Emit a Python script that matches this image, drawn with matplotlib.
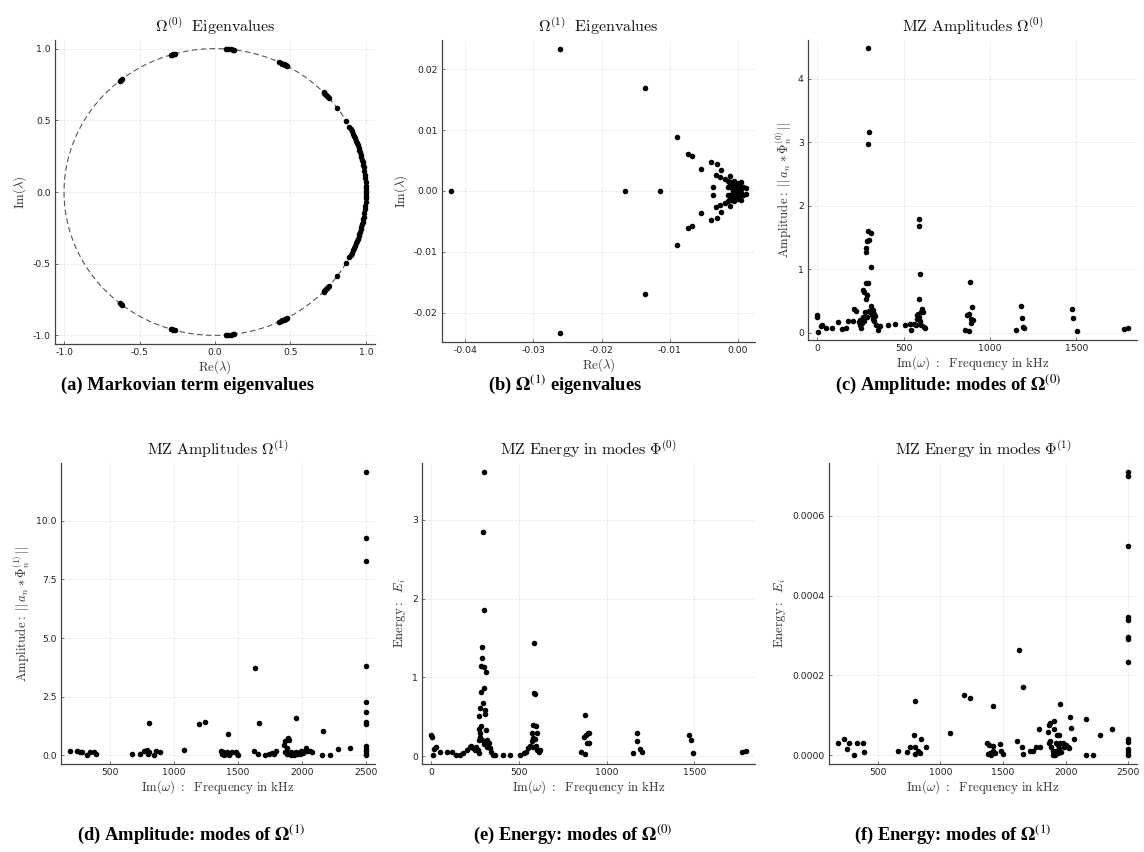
import numpy as np
import matplotlib
matplotlib.use("Agg")
import matplotlib.pyplot as plt
from matplotlib.ticker import FormatStrFormatter, MultipleLocator

plt.rcParams['mathtext.fontset'] = 'cm'
plt.rcParams['axes.unicode_minus'] = True

# (a) Omega^(0) eigenvalues: angles (deg) of the upper-half points on the unit circle
a_angles_deg = [0.5, 1.5, 2.5, 4, 5.5, 7, 8.5, 10, 11, 12, 13, 14, 15, 16, 17,
                18, 19, 20, 21, 22, 23, 24, 25, 26, 27, 29.5, 36,
                41, 41.5, 42, 42.5, 43, 43.5, 44,
                61.5, 62, 62.5, 63, 63.5, 64, 65,
                82.7, 83, 84, 85, 86,
                105.5, 106, 106.5, 107,
                128, 128.5, 129]

# (b) Omega^(1) eigenvalues: upper-half complex points (conjugates mirrored) + real ones
b_re_cplx = [-0.0261, -0.01366, -0.00888, -0.0073, -0.0067, -0.00546, -0.00395,
             -0.00300, -0.00243, -0.0032, -0.00268, -0.00122, -0.0036, -0.0019,
             -0.0015, -0.0010, -0.0006, 0.0000, 0.0004, -0.0012, -0.0008, -0.0003,
             0.0002, 0.0008, -0.0009, -0.0005, 0.0000, 0.0005, 0.0012, -0.0014,
             -0.0002, 0.0003]
b_im_cplx = [0.0234, 0.0169, 0.0088, 0.0061, 0.0057, 0.0036, 0.0047,
             0.0045, 0.0034, 0.0026, 0.0023, 0.0024, 0.0006, 0.0019,
             0.0017, 0.0014, 0.0016, 0.0013, 0.0015, 0.0011, 0.0010, 0.0009,
             0.0008, 0.0007, 0.0005, 0.0004, 0.0004, 0.0003, 0.0005, 0.0007,
             0.0002, 0.0001]
b_re_real = [-0.0421, -0.0165, -0.01137, -0.0007]

# (c) MZ amplitudes, modes of Omega^(0)
c_freq = [0, 0, 6, 19, 25, 48, 87, 118, 141, 165, 180, 205, 215, 225,
          240, 245, 250, 255, 258, 262, 267, 271, 277, 281, 287, 281, 296, 283, 283,
          287, 300, 292, 310, 310, 296, 297, 294,
          312, 322, 326, 335, 305, 315, 320, 330, 340, 350, 364, 290, 300, 270,
          409, 448, 506, 539, 545, 558, 574, 587, 587, 587, 593,
          575, 580, 585, 590, 598, 605, 610, 592, 616, 622, 600,
          858, 878, 882, 868, 880, 893, 898, 903, 888,
          1153, 1178, 1184, 1192, 1200,
          1473, 1484, 1502, 1779, 1798]
c_amp = [0.28, 0.25, 0.02, 0.10, 0.12, 0.08, 0.07, 0.17, 0.06, 0.07, 0.19, 0.19, 0.38, 0.35,
         0.17, 0.12, 0.20, 0.08, 0.15, 0.25, 0.67, 0.65, 0.33, 0.53, 0.60, 0.78, 0.79, 1.33, 1.28,
         1.44, 1.46, 1.60, 1.57, 1.03, 4.48, 3.17, 2.98,
         0.42, 0.36, 0.30, 0.26, 0.32, 0.28, 0.22, 0.18, 0.12, 0.04, 0.10, 0.25, 0.35, 0.18,
         0.13, 0.14, 0.12, 0.14, 0.05, 0.14, 0.12, 0.54, 1.79, 1.68, 0.93,
         0.28, 0.22, 0.30, 0.25, 0.33, 0.38, 0.32, 0.18, 0.09, 0.07, 0.13,
         0.05, 0.03, 0.80, 0.28, 0.30, 0.15, 0.40, 0.20, 0.22,
         0.04, 0.42, 0.24, 0.09, 0.07,
         0.37, 0.24, 0.03, 0.06, 0.08]

# (d) MZ amplitudes, modes of Omega^(1)
d_freq = [188, 245, 264, 284, 318, 342, 375, 394,
          669, 739, 765, 791, 799, 809, 843, 861, 895, 806,
          1082, 1193, 1240, 1419,
          1367, 1383, 1393, 1414, 1432, 1453, 1484, 1500, 1375, 1440, 1490,
          1661, 1631, 1622, 1656, 1708, 1739, 1765, 1796, 1780,
          1856, 1869, 1889, 1902, 1882, 1869, 1894, 1910, 1925, 1940, 1955, 1970,
          1995, 2020, 2040, 2060, 2076, 1880, 1915, 1935, 1960, 1985, 2005, 2030, 1954,
          2162, 2159, 2219, 2279, 2375,
          2500, 2500, 2500, 2500, 2500, 2500, 2500, 2500, 2500, 2500, 2500, 2500, 2500]
d_amp = [0.20, 0.20, 0.16, 0.13, 0.00, 0.16, 0.16, 0.06,
         0.07, 0.07, 0.17, 0.24, 0.06, 0.16, 0.03, 0.21, 0.14, 1.39,
         0.23, 1.33, 1.44, 0.93,
         0.20, 0.13, 0.03, 0.14, 0.03, 0.13, 0.14, 0.03, 0.05, 0.10, 0.08,
         1.39, 3.73, 0.17, 0.07, 0.03, 0.06, 0.10, 0.17, 0.08,
         0.46, 0.60, 0.74, 0.64, 0.31, 0.14, 0.10, 0.03, 0.10, 0.03, 0.13, 0.10,
         0.17, 0.21, 0.17, 0.21, 0.14, 0.08, 0.15, 0.12, 0.06, 0.08, 0.12, 0.30, 1.59,
         1.04, 0.03, 0.03, 0.27, 0.33,
         12.1, 9.26, 8.28, 3.80, 2.30, 1.84, 1.43, 1.36, 0.39, 0.27, 0.17, 0.06, 0.00]

# (e) MZ energy, modes of Omega^(0)
e_freq = [2, 4, 9, 19, 28, 53, 91, 119, 144, 167, 182, 205, 220, 229, 239, 248, 258, 265,
          271, 273, 280,
          299, 294, 301, 292, 290, 284, 303, 311, 301, 284, 295, 280, 309, 305, 275, 286,
          273, 314, 278, 318, 328, 333, 341, 352, 366, 290, 300, 310, 320,
          409, 447, 504, 527, 542, 555, 564, 574, 583, 598, 606, 617, 621,
          587, 587, 593, 581, 597, 574, 602, 590, 578,
          877, 870, 880, 893, 898, 888, 900, 854, 877,
          1172, 1176, 1189, 1199, 1152,
          1468, 1479, 1494, 1769, 1792]
e_energy = [0.27, 0.25, 0.02, 0.09, 0.12, 0.06, 0.06, 0.06, 0.02, 0.02, 0.04, 0.08, 0.12, 0.13,
            0.10, 0.08, 0.12, 0.08, 0.04, 0.21, 0.24,
            3.61, 2.84, 1.86, 1.38, 1.24, 1.15, 1.13, 1.07, 0.86, 0.81, 0.67, 0.61, 0.59, 0.53,
            0.51, 0.39, 0.34, 0.33, 0.30, 0.21, 0.17, 0.10, 0.06, 0.02, 0.02, 0.20, 0.15, 0.18,
            0.12,
            0.01, 0.01, 0.02, 0.04, 0.06, 0.10, 0.13, 0.19, 0.23, 0.13, 0.08, 0.05, 0.08,
            1.44, 0.80, 0.79, 0.40, 0.39, 0.29, 0.29, 0.22, 0.12,
            0.52, 0.25, 0.27, 0.30, 0.29, 0.17, 0.17, 0.05, 0.03,
            0.29, 0.19, 0.09, 0.06, 0.04,
            0.27, 0.21, 0.04, 0.06, 0.07]

# (f) MZ energy, modes of Omega^(1)  (values in units of 1e-4)
f_freq = [179, 233, 251, 273, 332, 307, 380, 388,
          660, 733, 754, 786, 794, 797, 821, 848, 888, 834, 800,
          1075, 1190, 1235, 1417,
          1369, 1385, 1377, 1396, 1423, 1417, 1436, 1476, 1481, 1497, 1405,
          1615, 1626, 1663, 1655, 1663, 1711, 1738, 1759, 1797, 1789,
          1856, 1864, 1877, 1904, 1909, 1930, 1944, 1872, 1865, 1885, 1895, 1905, 1915,
          1925, 1935, 1945, 1955, 1965, 1975, 1990, 2000, 2015, 2025, 1952, 2035, 2043,
          2064, 1920, 1900, 1940,
          2166, 2166, 2219, 2278, 2372,
          2500, 2500, 2500, 2500, 2500, 2500, 2500, 2500, 2500, 2500, 2500, 2500, 2500]
f_energy_e4 = [0.32, 0.40, 0.17, 0.32, 0.32, 0.00, 0.30, 0.08,
               0.12, 0.08, 0.21, 0.50, 0.21, 0.03, 0.11, 0.42, 0.22, 0.07, 1.37,
               0.55, 1.50, 1.44, 1.23,
               0.30, 0.27, 0.04, 0.07, 0.23, 0.11, 0.07, 0.29, 0.11, 0.04, 0.02,
               0.36, 2.64, 1.71, 0.21, 0.04, 0.11, 0.12, 0.21, 0.21, 0.67,
               0.58, 0.75, 0.81, 0.86, 0.65, 0.52, 0.52, 0.36, 0.30, 0.20, 0.12, 0.05, 0.02,
               0.10, 0.25, 0.18, 0.30, 0.08, 0.32, 0.20, 0.26, 0.22, 0.18, 1.29, 0.97, 0.69,
               0.42, 0.30, 0.02, 0.05,
               0.92, 0.02, 0.02, 0.50, 0.65,
               7.10, 6.98, 5.23, 3.46, 3.39, 2.97, 2.91, 2.33, 0.40, 0.33, 0.15, 0.08, 0.02]

W, H = 1144, 852
FREQ_LABEL = r"$\mathrm{Im}(\omega)\ :\ \ \mathrm{Frequency\ in\ kHz}$"
TXT = '#333333'


def make_axes(fig, left, right, top, bottom):
    ax = fig.add_axes([left / W, 1 - bottom / H, (right - left) / W, (bottom - top) / H])
    for s in ('top', 'right'):
        ax.spines[s].set_visible(False)
    for s in ('left', 'bottom'):
        ax.spines[s].set_color('#444444')
        ax.spines[s].set_linewidth(0.9)
    ax.grid(True, color='black', alpha=0.08, linewidth=0.5)
    ax.set_axisbelow(True)
    ax.tick_params(direction='in', length=2, width=0.5, labelsize=6.7,
                   labelcolor='#222222', colors='#444444', pad=3)
    ax.margins(0.03)
    return ax


def dots(ax, x, y):
    ax.scatter(x, y, s=16, c='black', linewidths=0, zorder=3)


def style(ax, title, xlabel, ylabel):
    ax.set_title(title, fontsize=11.5, pad=6, color='#111111')
    ax.set_xlabel(xlabel, fontsize=9.3, labelpad=1, color=TXT)
    ax.set_ylabel(ylabel, fontsize=9.3, labelpad=3, color=TXT)


fig = plt.figure(figsize=(W / 100, H / 100), dpi=100)

# (a)
ax = make_axes(fig, 55, 375, 40, 344)
theta = np.linspace(0, 2 * np.pi, 400)
ax.plot(np.cos(theta), np.sin(theta), color='#555555', lw=0.8, dashes=(5, 3), zorder=2)
ang = np.deg2rad(np.array(a_angles_deg))
dots(ax, np.concatenate([np.cos(ang), np.cos(ang)]),
     np.concatenate([np.sin(ang), -np.sin(ang)]))
ax.set_xticks([-1.0, -0.5, 0.0, 0.5, 1.0])
ax.set_yticks([-1.0, -0.5, 0.0, 0.5, 1.0])
ax.xaxis.set_major_formatter(FormatStrFormatter('%.1f'))
ax.yaxis.set_major_formatter(FormatStrFormatter('%.1f'))
style(ax, r"$\Omega^{(0)}\ \ \mathrm{Eigenvalues}$", r"$\mathrm{Re}(\lambda)$",
      r"$\mathrm{Im}(\lambda)$")

# (b)
ax = make_axes(fig, 442, 755, 40, 342)
bre = np.array(b_re_cplx)
bim = np.array(b_im_cplx)
dots(ax, np.concatenate([bre, bre, b_re_real]),
     np.concatenate([bim, -bim, np.zeros(len(b_re_real))]))
ax.xaxis.set_major_locator(MultipleLocator(0.01))
ax.yaxis.set_major_locator(MultipleLocator(0.01))
ax.xaxis.set_major_formatter(FormatStrFormatter('%.2f'))
ax.yaxis.set_major_formatter(FormatStrFormatter('%.2f'))
style(ax, r"$\Omega^{(1)}\ \ \mathrm{Eigenvalues}$", r"$\mathrm{Re}(\lambda)$",
      r"$\mathrm{Im}(\lambda)$")

# (c)
ax = make_axes(fig, 808, 1137, 40, 340)
dots(ax, c_freq, c_amp)
ax.set_xticks([0, 500, 1000, 1500])
ax.set_yticks([0, 1, 2, 3, 4])
style(ax, r"$\mathrm{MZ\ Amplitudes}\ \Omega^{(0)}$", FREQ_LABEL,
      r"$\mathrm{Amplitude}:\ ||\,a_n * \Phi_n^{(0)}\,||$")

# (d)
ax = make_axes(fig, 61, 375, 463, 764)
dots(ax, d_freq, d_amp)
ax.set_xticks([500, 1000, 1500, 2000, 2500])
ax.set_yticks([0, 2.5, 5, 7.5, 10])
ax.yaxis.set_major_formatter(FormatStrFormatter('%.1f'))
style(ax, r"$\mathrm{MZ\ Amplitudes}\ \Omega^{(1)}$", FREQ_LABEL,
      r"$\mathrm{Amplitude}:\ ||\,a_n * \Phi_n^{(1)}\,||$")

# (e)
ax = make_axes(fig, 422, 755, 463, 764)
dots(ax, e_freq, e_energy)
ax.set_xticks([0, 500, 1000, 1500])
ax.set_yticks([0, 1, 2, 3])
style(ax, r"$\mathrm{MZ\ Energy\ in\ modes}\ \Phi^{(0)}$", FREQ_LABEL,
      r"$\mathrm{Energy}:\ \ E_i$")

# (f)
ax = make_axes(fig, 829, 1137, 463, 764)
dots(ax, f_freq, np.array(f_energy_e4) * 1e-4)
ax.set_xticks([500, 1000, 1500, 2000, 2500])
ax.set_yticks([0, 0.0002, 0.0004, 0.0006])
ax.yaxis.set_major_formatter(FormatStrFormatter('%.4f'))
style(ax, r"$\mathrm{MZ\ Energy\ in\ modes}\ \Phi^{(1)}$", FREQ_LABEL,
      r"$\mathrm{Energy}:\ \ E_i$")

# captions
captions = [
    (188, 385, r"(a) Markovian term eigenvalues"),
    (565, 385, r"(b) $\mathbf{\Omega}^{(1)}$ eigenvalues"),
    (948, 385, r"(c) Amplitude: modes of $\mathbf{\Omega}^{(0)}$"),
    (191, 835, r"(d) Amplitude: modes of $\mathbf{\Omega}^{(1)}$"),
    (573, 835, r"(e) Energy: modes of $\mathbf{\Omega}^{(0)}$"),
    (953, 835, r"(f) Energy: modes of $\mathbf{\Omega}^{(1)}$"),
]
for x, y, txt in captions:
    fig.text(x / W, 1 - y / H, txt, ha='center', va='center', fontsize=13.3,
             family='Liberation Serif', weight='bold', math_fontfamily='stix')

fig.savefig('out.png', dpi=100)
